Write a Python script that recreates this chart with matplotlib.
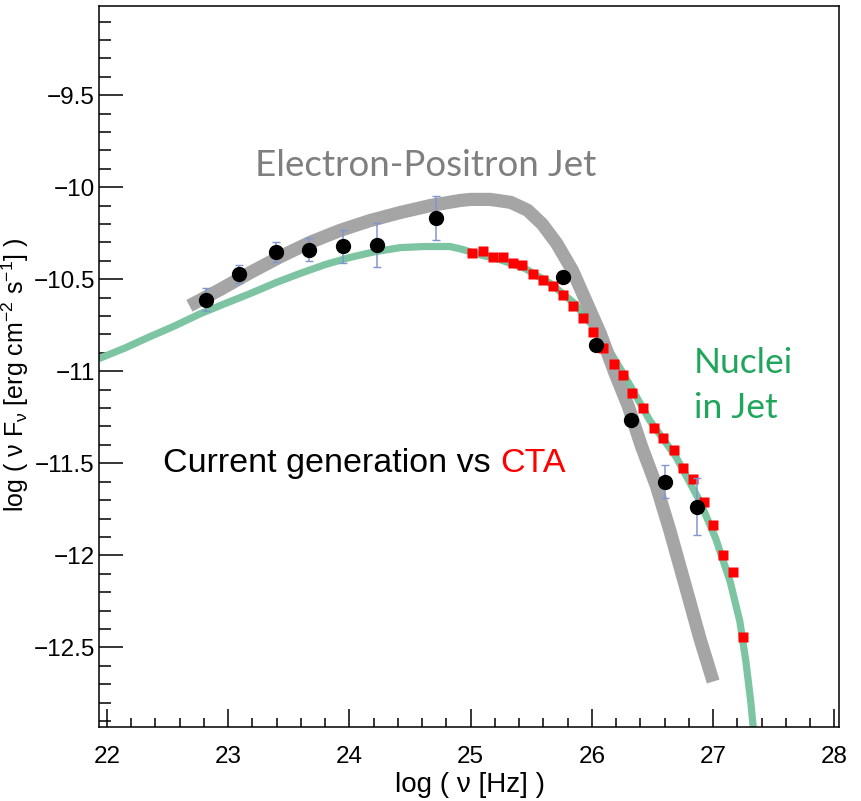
import numpy as np
import matplotlib
matplotlib.use('Agg')
import matplotlib.pyplot as plt
from matplotlib.ticker import MultipleLocator, FixedLocator

plt.rcParams['font.family'] = ['Liberation Sans', 'DejaVu Sans']
plt.rcParams['mathtext.fontset'] = 'custom'
plt.rcParams['mathtext.rm'] = 'Liberation Sans'

# ── Data (log nu [Hz], log nuFnu [erg cm^-2 s^-1]) ───────────────────
# current-generation measurements (black dots with error bars)
obs_x   = [22.82, 23.09, 23.39, 23.67, 23.95, 24.23, 24.71, 25.76, 26.03, 26.32, 26.60, 26.87]
obs_y   = [-10.61, -10.47, -10.35, -10.34, -10.32, -10.315, -10.165, -10.49, -10.855, -11.265, -11.60, -11.737]
obs_err = [0.06, 0.05, 0.055, 0.063, 0.09, 0.12, 0.12, 0.0, 0.0, 0.02, 0.09, 0.155]

# CTA simulated points (red squares)
cta_x = [25.01, 25.10, 25.18, 25.265, 25.35, 25.42, 25.51, 25.595, 25.68, 25.76,
         25.84, 25.925, 26.01, 26.09, 26.18, 26.255, 26.33, 26.42, 26.51, 26.59,
         26.68, 26.755, 26.83, 26.925, 26.997, 27.085, 27.16, 27.25]
cta_y = [-10.357, -10.344, -10.381, -10.381, -10.413, -10.422, -10.471, -10.504, -10.535, -10.584,
         -10.644, -10.711, -10.785, -10.871, -10.958, -11.021, -11.116, -11.201, -11.306, -11.363,
         -11.428, -11.524, -11.583, -11.711, -11.837, -11.998, -12.093, -12.442]

# electron-positron jet model (grey)
ep_x = [22.68, 22.93, 23.18, 23.43, 23.67, 23.92, 24.17, 24.42, 24.67, 24.91, 25.00, 25.16,
        25.33, 25.47, 25.59, 25.71, 25.84, 25.95, 26.07, 26.19, 26.30, 26.41, 26.53, 26.645,
        26.785, 26.89, 27.00]
ep_y = [-10.644, -10.557, -10.464, -10.377, -10.301, -10.235, -10.181, -10.137, -10.099, -10.072,
        -10.066, -10.066, -10.082, -10.125, -10.200, -10.306, -10.453, -10.617, -10.796, -11.010,
        -11.190, -11.410, -11.620, -11.870, -12.200, -12.450, -12.686]

# nuclei-in-jet model (green)
nuc_x = [21.93, 22.15, 22.35, 22.56, 22.77, 22.97, 23.18, 23.39, 23.59, 23.80, 24.00, 24.21,
         24.42, 24.62, 24.83, 24.94, 25.04, 25.24, 25.45, 25.66, 25.86, 26.07, 26.27, 26.48,
         26.69, 26.89, 27.02, 27.14, 27.22, 27.27, 27.31, 27.34]
nuc_y = [-10.932, -10.873, -10.813, -10.753, -10.687, -10.633, -10.578, -10.519, -10.469, -10.420,
         -10.382, -10.350, -10.328, -10.322, -10.322, -10.339, -10.361, -10.393, -10.442, -10.524,
         -10.633, -10.807, -11.025, -11.270, -11.461, -11.706, -11.907, -12.142, -12.359, -12.577,
         -12.795, -13.000]

x_ticks = [22, 23, 24, 25, 26, 27, 28]
y_ticks = [-12.5, -12, -11.5, -11, -10.5, -10, -9.5]

# ── Figure ───────────────────────────────────────────────────────────
W, H = 861, 801
fig = plt.figure(figsize=(W / 100, H / 100), dpi=100, facecolor='white')
L, R, T, B = 99, 839, 6, 727
ax = fig.add_axes([L / W, (H - B) / H, (R - L) / W, (B - T) / H])

ax.plot(nuc_x, nuc_y, color='#7cc4a2', lw=5.2, solid_capstyle='butt', zorder=2)
ax.plot(ep_x, ep_y, color='#a5a5a5', lw=9.5, solid_capstyle='butt', zorder=3)
ax.plot(cta_x, cta_y, ls='none', marker='s', ms=7.8, color='#ff0000', mec='none', zorder=4)
ax.errorbar(obs_x, obs_y, yerr=obs_err, fmt='none', ecolor='#8096d0', elinewidth=1.1,
            capsize=3, capthick=1.0, zorder=5)
ax.plot(obs_x, obs_y, ls='none', marker='o', ms=10, color='black', zorder=6)

ax.set_xlim(21.934, 28.038)
ax.set_ylim(-12.933, -9.015)

ax.xaxis.set_major_locator(FixedLocator(x_ticks))
ax.xaxis.set_minor_locator(MultipleLocator(0.2))
ax.yaxis.set_major_locator(FixedLocator(y_ticks))
ax.yaxis.set_minor_locator(MultipleLocator(0.1))
ax.set_xticklabels([f'{v:g}' for v in x_ticks])
ax.set_yticklabels([f'{v:g}'.replace('-', '\u2212') for v in y_ticks])

ax.tick_params(which='both', direction='in', top=False, right=False,
               width=1.1, color='black', labelsize=17.5)
ax.tick_params(axis='y', which='major', length=17, pad=3)
ax.tick_params(axis='y', which='minor', length=8.5)
ax.tick_params(axis='x', which='major', length=13, pad=14)
ax.tick_params(axis='x', which='minor', length=6.5)
for sp in ax.spines.values():
    sp.set_linewidth(1.1)

ax.set_xlabel('log ( \u03bd [Hz] )', fontsize=20)
ax.xaxis.set_label_coords(0.501, -0.063)
ax.set_ylabel('log ( \u03bd F$_\\mathregular{\u03bd}$ [erg cm$^\\mathregular{-2}$ s$^\\mathregular{-1}$] )',
              fontsize=18)
ax.yaxis.set_label_coords(-0.092, 0.488)

# ── Annotations ──────────────────────────────────────────────────────
ax.text(24.63, -9.88, 'Electron-Positron Jet', color='#7f7f7f', fontsize=26.5,
        family='Lato', ha='center', va='center')
ax.text(26.84, -11.075, 'Nuclei\nin Jet', color='#1fa65c', fontsize=25.5,
        family='Lato', ha='left', va='center', linespacing=1.5)
t1 = ax.text(22.46, -11.50, 'Current generation vs ', color='black', fontsize=24.5,
             ha='left', va='center')
ax.annotate('CTA', xy=(1, 0), xycoords=t1, color='#ff0000', fontsize=24.5,
            ha='left', va='bottom')

fig.savefig('out.png', dpi=100, facecolor='white')
